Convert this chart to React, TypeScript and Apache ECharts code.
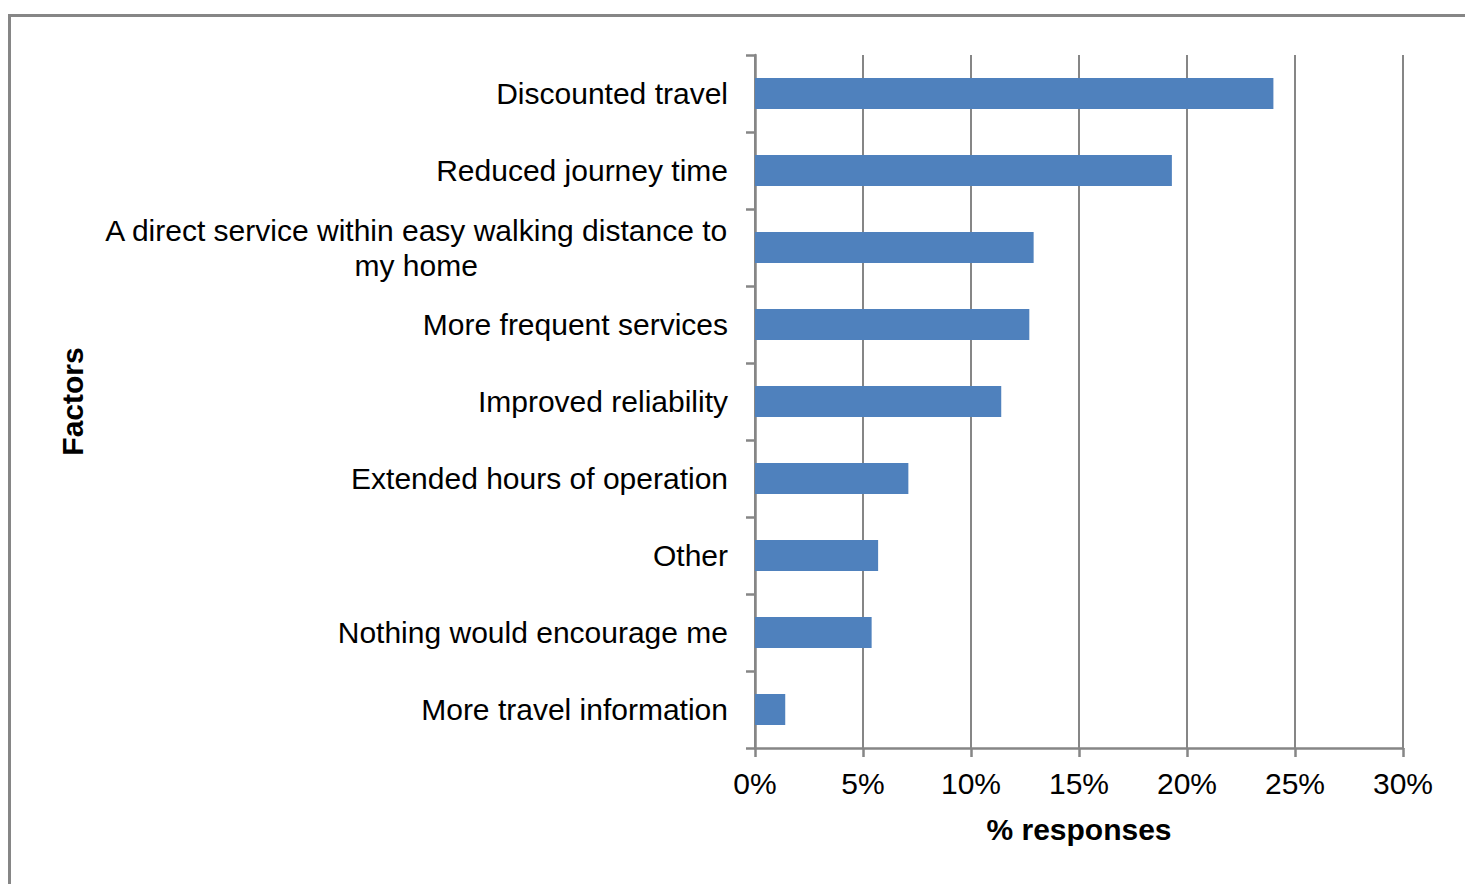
import React, { useEffect, useRef } from "react";
import * as echarts from "echarts";

const categories: string[] = [
  "Discounted travel",
  "Reduced journey time",
  "A direct service within easy walking distance to\nmy home",
  "More frequent services",
  "Improved reliability",
  "Extended hours of operation",
  "Other",
  "Nothing would encourage me",
  "More travel information",
];
const values: number[] = [24.0, 19.3, 12.9, 12.7, 11.4, 7.1, 5.7, 5.4, 1.4];
const xTicks = { min: 0, max: 30, interval: 5 };
const xAxisTitle = "% responses";
const yAxisTitle = "Factors";

const FONT = "'Liberation Sans', Arial, sans-serif";
const GRAY = "#868686";
const FS = 30;

export default function App() {
  const ref = useRef<HTMLDivElement>(null);
  useEffect(() => {
    document.body.style.margin = "0";
    const chart = echarts.init(ref.current!, null, { renderer: "svg" });
    chart.setOption({
      animation: false,
      backgroundColor: "#ffffff",
      textStyle: { fontFamily: FONT },
      graphic: [
        {
          type: "rect",
          shape: { x: 9.5, y: 15.5, width: 1500, height: 920 },
          style: { fill: "none", stroke: GRAY, lineWidth: 3 },
          silent: true,
        },
      ],
      grid: { left: 755, right: 62, top: 55, bottom: 136, containLabel: false },
      xAxis: {
        type: "value",
        min: xTicks.min,
        max: xTicks.max,
        interval: xTicks.interval,
        name: xAxisTitle,
        nameLocation: "middle",
        nameGap: 66,
        nameTextStyle: { fontFamily: FONT, fontSize: FS, fontWeight: "bold", color: "#000" },
        axisLine: { show: true, lineStyle: { color: GRAY, width: 2.5 } },
        axisTick: { show: true, length: 9, lineStyle: { color: GRAY, width: 2.5 } },
        axisLabel: {
          fontFamily: FONT,
          fontSize: FS,
          color: "#000",
          margin: 20,
          formatter: (v: number) => `${v}%`,
        },
        splitLine: { show: true, lineStyle: { color: GRAY, width: 2 } },
      },
      yAxis: {
        type: "category",
        data: categories,
        inverse: true,
        name: yAxisTitle,
        nameLocation: "middle",
        nameGap: 668,
        nameRotate: 90,
        nameTextStyle: { fontFamily: FONT, fontSize: FS, fontWeight: "bold", color: "#000" },
        axisLine: { show: true, lineStyle: { color: GRAY, width: 2.5 } },
        axisTick: { show: true, length: 9, alignWithLabel: false, lineStyle: { color: GRAY, width: 2.5 } },
        axisLabel: {
          fontFamily: FONT,
          fontSize: FS,
          color: "#000",
          margin: 27,
          lineHeight: 34,
          formatter: (v: string) =>
            v.indexOf("\n") >= 0
              ? v
                  .split("\n")
                  .map((s) => `{c|${s}}`)
                  .join("\n")
              : v,
          rich: {
            c: { fontFamily: FONT, fontSize: FS, color: "#000", align: "center", lineHeight: 35 },
          },
        },
        splitLine: { show: false },
      },
      series: [
        {
          type: "bar",
          data: values,
          barWidth: 31,
          itemStyle: { color: "#4F81BD" },
        },
      ],
    });
    return () => chart.dispose();
  }, []);
  return <div ref={ref} style={{ width: 1465, height: 884 }} />;
}
